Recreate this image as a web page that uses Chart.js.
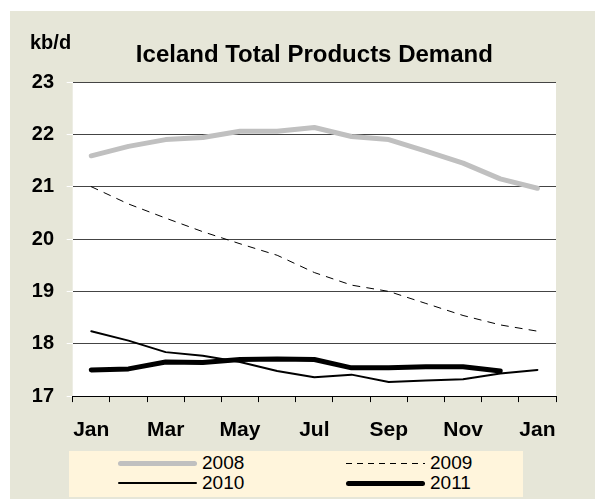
<!DOCTYPE html>
<html>
<head>
<meta charset="utf-8">
<script src="https://cdn.jsdelivr.net/npm/chart.js@4.4.1/dist/chart.umd.min.js"></script>
<style>
  body { margin: 0; background: #fff; }
  #wrap { position: relative; width: 595px; height: 500px; }
  #legend {
    position: absolute; left: 69px; top: 451px; width: 454px; height: 46px;
    background: #fff5dc; font-family: Arial, 'Liberation Sans', sans-serif; font-size: 19px;
  }
  .item { position: absolute; height: 20px; display: flex; align-items: center; }
  .item .sample { width: 79px; margin-right: 5px; }
</style>
</head>
<body>
<div id="wrap">
  <canvas id="grafico" width="595" height="500"></canvas>
  <div id="legend"></div>
</div>
<script>
const months = ['Jan', 'Feb', 'Mar', 'Apr', 'May', 'Jun', 'Jul', 'Aug', 'Sep', 'Oct', 'Nov', 'Dec', 'Jan'];
const years = ['2008', '2009', '2010', '2011'];
const d2008 = [21.59, 21.77, 21.90, 21.94, 22.06, 22.06, 22.13, 21.96, 21.90, 21.68, 21.45, 21.15, 20.97];
const d2009 = [21.00, 20.67, 20.40, 20.14, 19.91, 19.69, 19.36, 19.12, 19.00, 18.77, 18.54, 18.36, 18.24];
const d2010 = [18.24, 18.06, 17.84, 17.77, 17.65, 17.48, 17.36, 17.41, 17.27, 17.30, 17.32, 17.43, 17.50];
const d2011 = [17.50, 17.52, 17.65, 17.64, 17.70, 17.71, 17.70, 17.54, 17.54, 17.56, 17.56, 17.48, null];
const yMin = 17;
const yMax = 23;

const fonte = "Arial, 'Liberation Sans', sans-serif";

const fundo = {
    id: 'fundo',
    beforeDraw(chart) {
        const ctx = chart.ctx;
        const a = chart.chartArea;
        ctx.save();
        ctx.fillStyle = '#e6e6d8';
        ctx.fillRect(10, 11, 585, 488);
        ctx.fillStyle = '#ffffff';
        ctx.fillRect(a.left, a.top, a.right - a.left, a.bottom - a.top);
        ctx.restore();
    },
    afterDraw(chart) {
        const ctx = chart.ctx;
        ctx.save();
        ctx.fillStyle = '#000';
        ctx.font = 'bold 20px ' + fonte;
        ctx.textAlign = 'left';
        ctx.textBaseline = 'alphabetic';
        ctx.fillText('kb/d', 30, 49);
        ctx.restore();
    }
};

const series = [
    { label: years[0], data: d2008, borderColor: '#c0c0c0', borderWidth: 5, borderDash: [] },
    { label: years[1], data: d2009, borderColor: '#000000', borderWidth: 1, borderDash: [7, 7] },
    { label: years[2], data: d2010, borderColor: '#000000', borderWidth: 2, borderDash: [] },
    { label: years[3], data: d2011, borderColor: '#000000', borderWidth: 5, borderDash: [] }
];

const ctx = document.getElementById('grafico').getContext('2d');
const MyChart = new Chart(ctx, {
    type: 'line',
    data: {
        labels: months,
        datasets: series.map(function(s) {
            return {
                label: s.label,
                data: s.data,
                borderColor: s.borderColor,
                backgroundColor: s.borderColor,
                borderWidth: s.borderWidth,
                borderDash: s.borderDash,
                borderCapStyle: 'round',
                borderJoinStyle: 'round',
                pointRadius: 0,
                tension: 0,
                fill: false
            };
        })
    },
    plugins: [fundo],
    options: {
        responsive: false,
        animation: false,
        layout: { padding: { left: 0, right: 39, top: 0, bottom: 40.7 } },
        plugins: {
            legend: { display: false },
            tooltip: { enabled: false },
            title: {
                display: true,
                fullSize: false,
                text: 'Iceland Total Products Demand',
                color: '#000',
                font: { family: fonte, size: 24, weight: 'bold' },
                padding: { top: 40.5, bottom: 12.7 }
            }
        },
        scales: {
            x: {
                offset: true,
                grid: { offset: true, drawOnChartArea: false, drawTicks: true, tickLength: 6, color: '#000' },
                border: { display: true, color: '#000', width: 1 },
                ticks: {
                    autoSkip: false,
                    maxRotation: 0,
                    padding: 16,
                    color: '#000',
                    font: { family: fonte, size: 21, weight: 'bold' },
                    callback: function(value, index) {
                        return index % 2 === 0 ? months[index] : '';
                    }
                }
            },
            y: {
                min: yMin,
                max: yMax,
                afterFit: function(scale) { scale.width = 72.7; },
                grid: { color: '#444', tickColor: '#ffffff', tickLength: 6 },
                border: { display: false },
                ticks: {
                    stepSize: 1,
                    padding: 12.7,
                    color: '#000',
                    font: { family: fonte, size: 20, weight: 'bold' }
                }
            }
        }
    }
});

// legenda em HTML, 2 colunas
const legenda = document.getElementById('legend');
const colX = [49, 277];
MyChart.data.datasets.forEach(function(ds, i) {
    const item = document.createElement('div');
    item.className = 'item';
    item.style.left = colX[i % 2] + 'px';
    item.style.top = (2.3 + Math.floor(i / 2) * 20) + 'px';
    const amostra = document.createElement('span');
    amostra.className = 'sample';
    amostra.style.height = ds.borderWidth + 'px';
    if (ds.borderDash.length) {
        amostra.style.background = 'repeating-linear-gradient(to right, ' + ds.borderColor + ' 0 6px, transparent 6px 11px)';
    } else {
        amostra.style.background = ds.borderColor;
        amostra.style.borderRadius = (ds.borderWidth / 2) + 'px';
    }
    const texto = document.createElement('span');
    texto.textContent = ds.label;
    item.appendChild(amostra);
    item.appendChild(texto);
    legenda.appendChild(item);
});
</script>
</body>
</html>
